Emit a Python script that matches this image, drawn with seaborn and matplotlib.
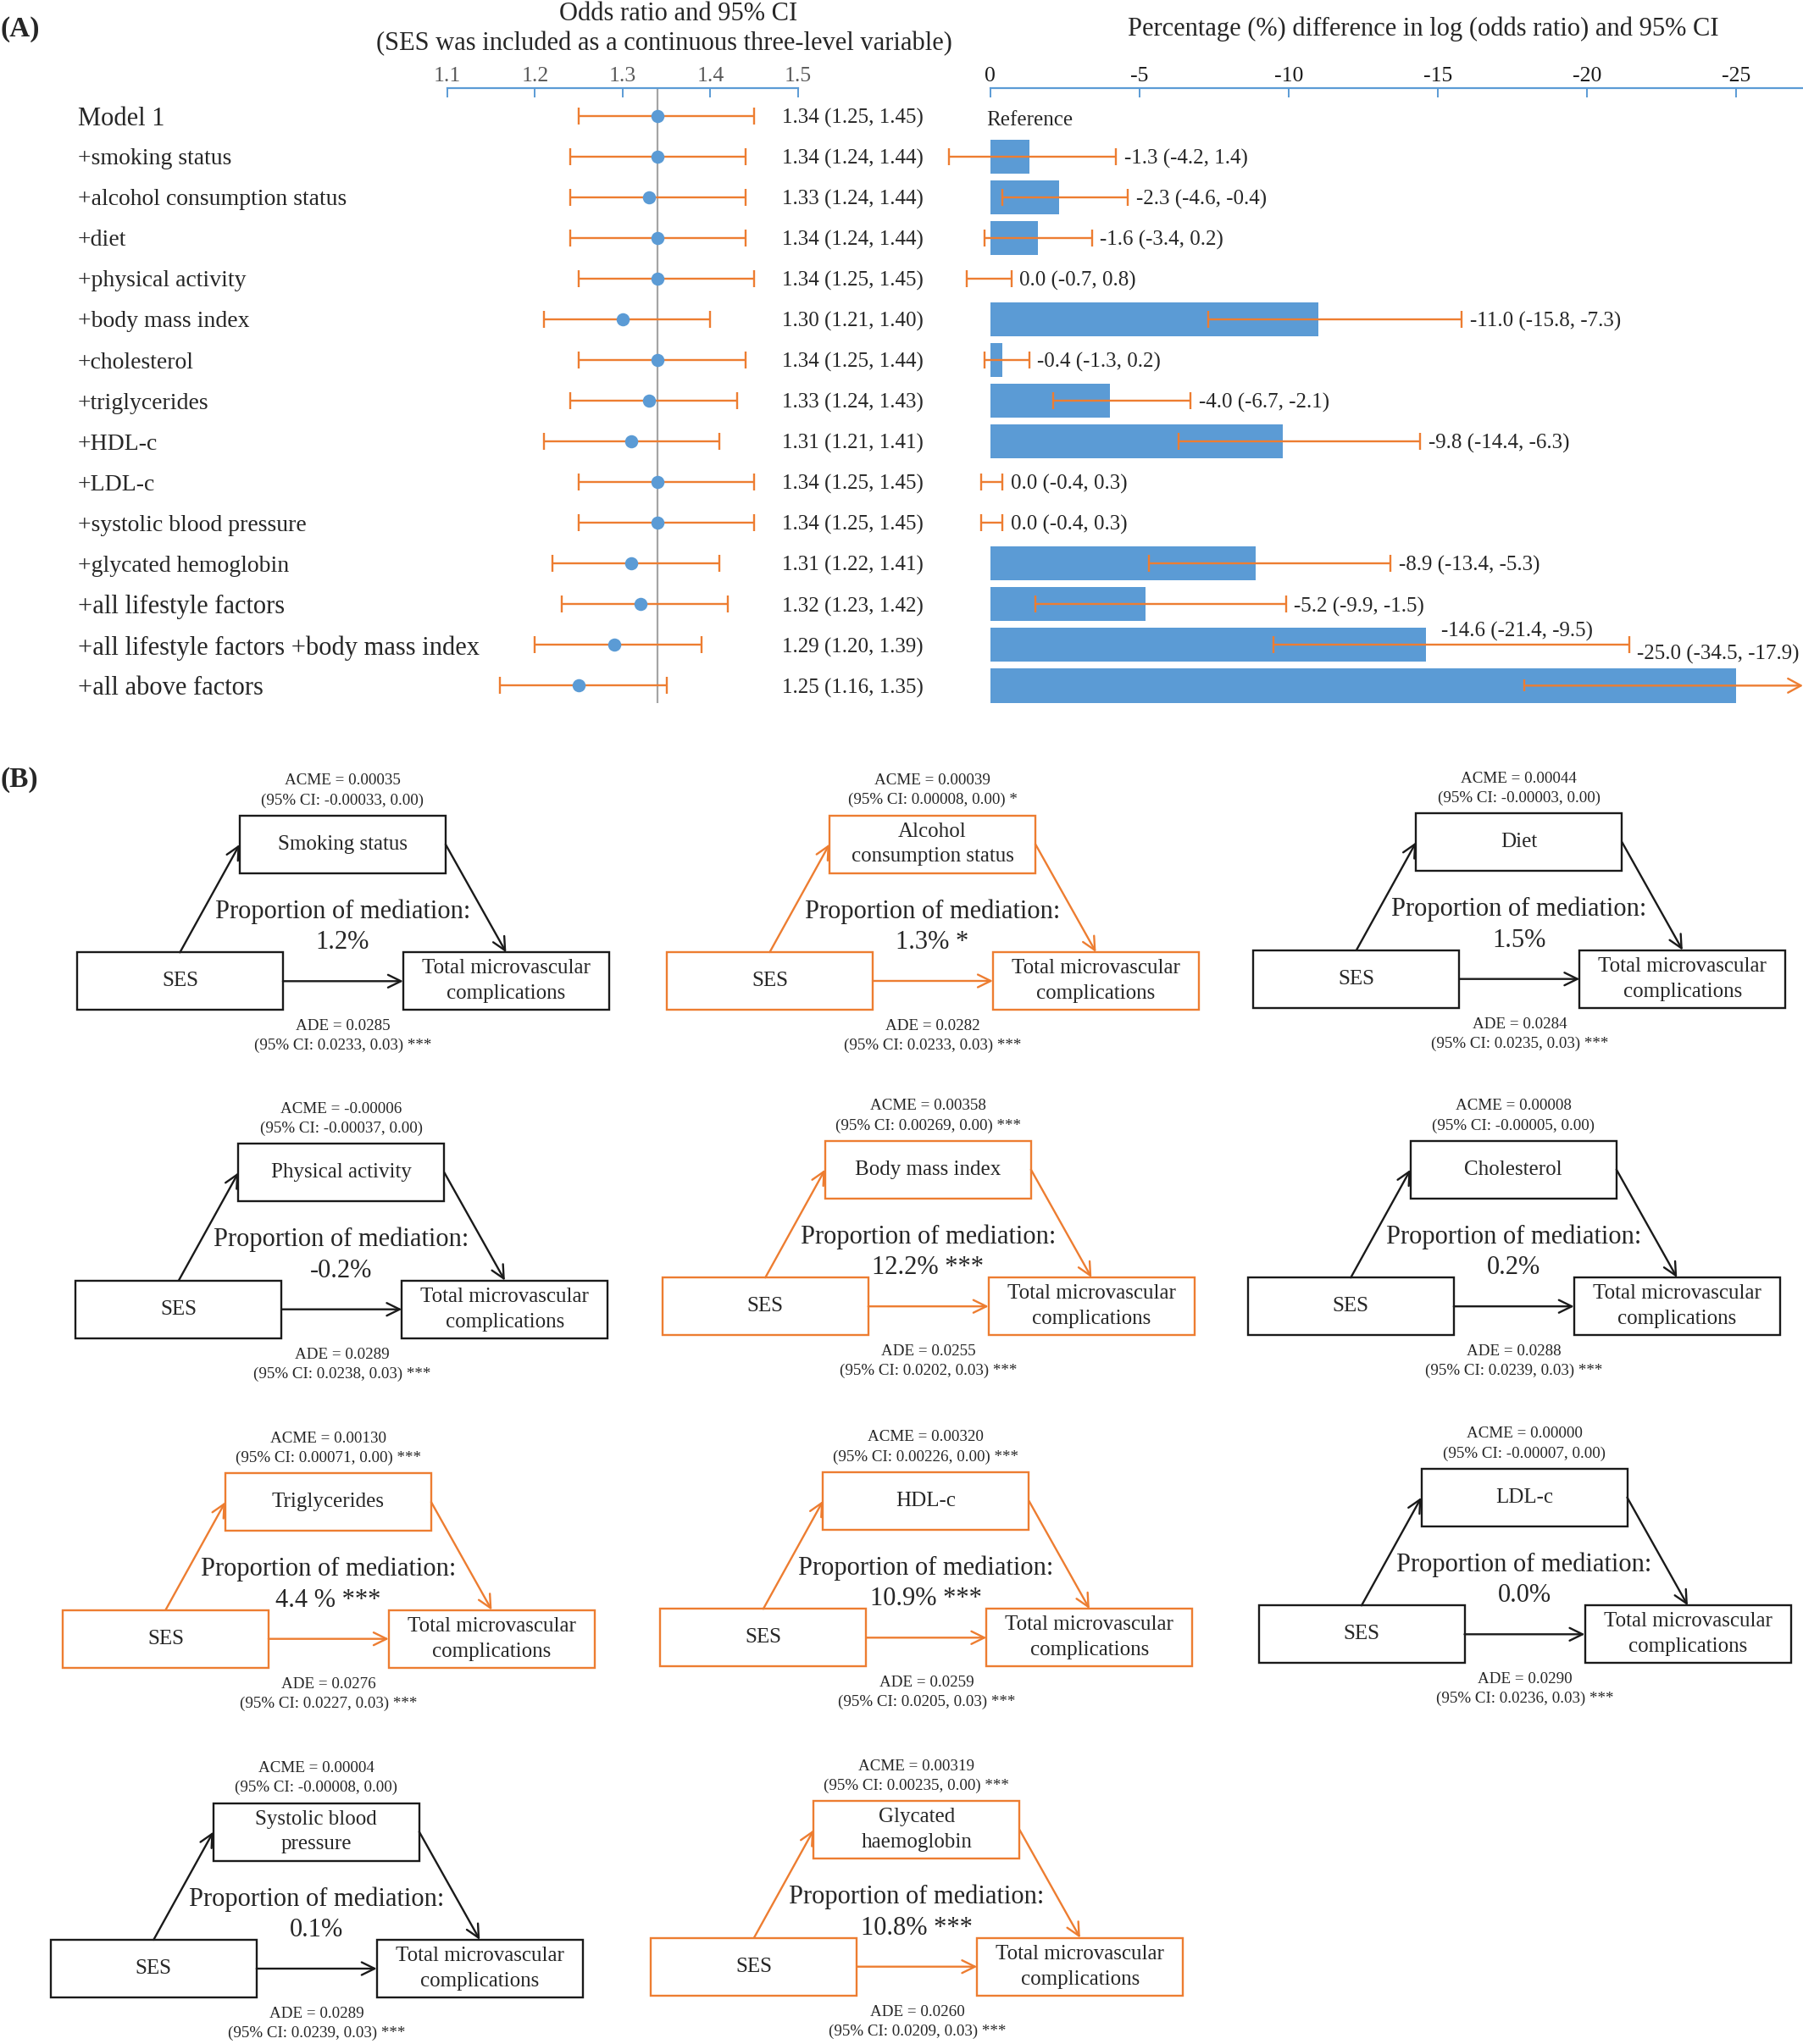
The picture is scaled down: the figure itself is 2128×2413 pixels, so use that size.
import numpy as np
import pandas as pd
import matplotlib
matplotlib.use("Agg")
import matplotlib.pyplot as plt
from matplotlib.patches import Rectangle
import matplotlib.transforms as mtransforms
import seaborn as sns

# ---------------- data: panel A ----------------
models = ["Model 1", "+smoking status", "+alcohol consumption status", "+diet",
          "+physical activity", "+body mass index", "+cholesterol", "+triglycerides",
          "+HDL-c", "+LDL-c", "+systolic blood pressure", "+glycated hemoglobin",
          "+all lifestyle factors", "+all lifestyle factors +body mass index",
          "+all above factors"]
or_est = [1.34, 1.34, 1.33, 1.34, 1.34, 1.30, 1.34, 1.33, 1.31, 1.34, 1.34, 1.31, 1.32, 1.29, 1.25]
or_lo = [1.25, 1.24, 1.24, 1.24, 1.25, 1.21, 1.25, 1.24, 1.21, 1.25, 1.25, 1.22, 1.23, 1.20, 1.16]
or_hi = [1.45, 1.44, 1.44, 1.44, 1.45, 1.40, 1.44, 1.43, 1.41, 1.45, 1.45, 1.41, 1.42, 1.39, 1.35]
or_ticks = [1.1, 1.2, 1.3, 1.4, 1.5]

pct_models = models[1:]
pct_diff = [-1.3, -2.3, -1.6, 0.0, -11.0, -0.4, -4.0, -9.8, 0.0, 0.0, -8.9, -5.2, -14.6, -25.0]
pct_lo = [-4.2, -4.6, -3.4, -0.7, -15.8, -1.3, -6.7, -14.4, -0.4, -0.4, -13.4, -9.9, -21.4, -34.5]
pct_hi = [1.4, -0.4, 0.2, 0.8, -7.3, 0.2, -2.1, -6.3, 0.3, 0.3, -5.3, -1.5, -9.5, -17.9]
pct_ticks = [0, -5, -10, -15, -20, -25]

# ---------------- data: panel B ----------------
mediators = ["Smoking status", "Alcohol\nconsumption status", "Diet", "Physical activity",
             "Body mass index", "Cholesterol", "Triglycerides", "HDL-c", "LDL-c",
             "Systolic blood\npressure", "Glycated\nhaemoglobin"]
acme = [0.00035, 0.00039, 0.00044, -0.00006, 0.00358, 0.00008, 0.00130, 0.00320, 0.00000, 0.00004, 0.00319]
acme_ci_lo = [-0.00033, 0.00008, -0.00003, -0.00037, 0.00269, -0.00005, 0.00071, 0.00226, -0.00007, -0.00008, 0.00235]
acme_ci_hi = [0.00] * 11
acme_sig = ["", "*", "", "", "***", "", "***", "***", "", "", "***"]
ade = [0.0285, 0.0282, 0.0284, 0.0289, 0.0255, 0.0288, 0.0276, 0.0259, 0.0290, 0.0289, 0.0260]
ade_ci_lo = [0.0233, 0.0233, 0.0235, 0.0238, 0.0202, 0.0239, 0.0227, 0.0205, 0.0236, 0.0239, 0.0209]
ade_ci_hi = [0.03] * 11
ade_sig = ["***"] * 11
prop_labels = ["1.2%", "1.3% *", "1.5%", "-0.2%", "12.2% ***", "0.2%", "4.4 % ***",
               "10.9% ***", "0.0%", "0.1%", "10.8% ***"]

# ---------------- style ----------------
sns.set_style("white")
plt.rcParams["font.family"] = ["Liberation Serif", "DejaVu Serif"]
BLUE = "#5B9BD5"
ORANGE = "#ED7D31"
BLACK = "#1a1a1a"

FIG_W, FIG_H = 2128, 2413
fig = plt.figure(figsize=(FIG_W / 100, FIG_H / 100), dpi=100)

canvas = fig.add_axes([0, 0, 1, 1])
canvas.set_xlim(0, FIG_W)
canvas.set_ylim(FIG_H, 0)
canvas.axis("off")


def fig_rect(x0, x1, y0, y1):
    return [x0 / FIG_W, 1 - y1 / FIG_H, (x1 - x0) / FIG_W, (y1 - y0) / FIG_H]


ROW0_Y, ROW_H = 136.8, 48.04
AX_TOP, AX_BOT = 103.8, 830.0
YLIM = ((AX_BOT - ROW0_Y) / ROW_H, (AX_TOP - ROW0_Y) / ROW_H)
label_sizes = [22] + [20] * 11 + [22, 22, 22]

# ---------------- panel A: forest ----------------
ax_or = fig.add_axes(fig_rect(528, 942, AX_TOP, AX_BOT))
ax_or.patch.set_alpha(0)
rows = np.arange(len(models))
df_or = pd.DataFrame({"model": models, "row": rows, "or": or_est, "lo": or_lo, "hi": or_hi})

ax_or.axvline(or_est[0], color="#A5A5A5", lw=1.6, zorder=1)
ax_or.errorbar(df_or["or"], df_or["row"],
               xerr=[df_or["or"] - df_or["lo"], df_or["hi"] - df_or["or"]],
               fmt="none", ecolor=ORANGE, elinewidth=1.7, capsize=7, capthick=1.7, zorder=2)
sns.scatterplot(data=df_or, x="or", y="row", ax=ax_or, s=125, color=BLUE,
                edgecolor=BLUE, linewidth=0, zorder=3, legend=False)
ax_or.set_xlim(1.1, 1.5)
ax_or.set_ylim(*YLIM)
ax_or.set_xlabel("")
ax_or.set_ylabel("")
ax_or.set_yticks([])
ax_or.xaxis.tick_top()
ax_or.set_xticks(or_ticks)
ax_or.set_xticklabels([f"{t:.1f}" for t in or_ticks])
ax_or.tick_params(axis="x", direction="in", length=8, width=1.4, color=BLUE,
                  labelsize=18.5, labelcolor="#595959", pad=2)
for s in ["left", "right", "bottom"]:
    ax_or.spines[s].set_visible(False)
ax_or.spines["top"].set_color(BLUE)
ax_or.spines["top"].set_linewidth(1.6)

tr_or = mtransforms.blended_transform_factory(ax_or.transAxes, ax_or.transData)
for r, (m, e, l, h) in enumerate(zip(models, or_est, or_lo, or_hi)):
    ax_or.text(-1.054, r, m, transform=tr_or, ha="left", va="center_baseline",
               fontsize=label_sizes[r])
    ax_or.text(0.954, r, f"{e:.2f} ({l:.2f}, {h:.2f})", transform=tr_or,
               ha="left", va="center_baseline", fontsize=18)

# ---------------- panel A: percentage bars ----------------
PX_PER_UNIT = 35.22
X0_PX = 1168.9
LEFT_EXTRA = 2.0
RIGHT_LIM = -(FIG_W - X0_PX) / PX_PER_UNIT
ax_b = fig.add_axes(fig_rect(X0_PX - LEFT_EXTRA * PX_PER_UNIT, FIG_W, AX_TOP, AX_BOT))
ax_b.patch.set_alpha(0)
df_b = pd.DataFrame({"model": pct_models, "diff": pct_diff, "lo": pct_lo, "hi": pct_hi})
sns.barplot(data=df_b, x="diff", y="model", order=models, orient="h", color=BLUE,
            width=0.84, saturation=1, errorbar=None, linewidth=0, ax=ax_b, zorder=1)
ax_b.set_xlim(LEFT_EXTRA, RIGHT_LIM)
ax_b.set_ylim(*YLIM)
ax_b.set_xlabel("")
ax_b.set_ylabel("")
ax_b.set_yticks([])
ax_b.xaxis.tick_top()
ax_b.set_xticks(pct_ticks)
ax_b.set_xticklabels([str(t) for t in pct_ticks])
ax_b.tick_params(axis="x", direction="in", length=8, width=1.4, color=BLUE,
                 labelsize=18.5, labelcolor="#1a1a1a", pad=2)
for s in ["left", "right", "bottom"]:
    ax_b.spines[s].set_visible(False)
ax_b.spines["top"].set_color(BLUE)
ax_b.spines["top"].set_linewidth(1.6)
ax_b.spines["top"].set_bounds(RIGHT_LIM, 0)

brow = np.arange(1, len(models))
inside = df_b["lo"] >= RIGHT_LIM
ax_b.errorbar(df_b["diff"][inside], brow[inside.values],
              xerr=[(df_b["diff"] - df_b["lo"])[inside], (df_b["hi"] - df_b["diff"])[inside]],
              fmt="none", ecolor=ORANGE, elinewidth=1.7, capsize=7, capthick=1.7, zorder=3)
for r, (d, l, h) in zip(brow[~inside.values], df_b[~inside][["diff", "lo", "hi"]].values):
    ax_b.plot([h], [r], marker="|", ms=7 * 1.4, mew=1.7, color=ORANGE, zorder=3)
    ax_b.annotate("", xy=(RIGHT_LIM, r), xytext=(h, r),
                  arrowprops=dict(arrowstyle="->,head_length=0.55,head_width=0.3",
                                  color=ORANGE, lw=1.7, shrinkA=0, shrinkB=0,
                                  mutation_scale=20), zorder=3)

ax_b.annotate("Reference", xy=(0, 0), xytext=(-3.6, -2), textcoords="offset points",
              ha="left", va="center_baseline", fontsize=18)
n_b = len(pct_diff)
for i, (d, l, h) in enumerate(zip(pct_diff, pct_lo, pct_hi)):
    r = i + 1
    txt = f"{d:.1f} ({l:.1f}, {h:.1f})"
    if i == n_b - 1:
        ax_b.annotate(txt, xy=(1.0, r), xycoords=("axes fraction", "data"),
                      xytext=(-3, 28.5), textcoords="offset points",
                      ha="right", va="center_baseline", fontsize=18)
    elif i == n_b - 2:
        ax_b.annotate(txt, xy=(d, r), xytext=(13, 13.5), textcoords="offset points",
                      ha="left", va="center_baseline", fontsize=18)
    else:
        ax_b.annotate(txt, xy=(l, r), xytext=(7, 0), textcoords="offset points",
                      ha="left", va="center_baseline", fontsize=18)

# ---------------- titles ----------------
canvas.text(801, 17, "Odds ratio and 95% CI", ha="center", va="center", fontsize=22)
canvas.text(784, 52, "(SES was included as a continuous three-level variable)",
            ha="center", va="center", fontsize=22)
canvas.text(1680, 34, "Percentage (%) difference in log (odds ratio) and 95% CI",
            ha="center", va="center", fontsize=22)
canvas.text(0, 34, "(A)", ha="left", va="center", fontsize=24, fontweight="bold")
canvas.text(0, 921, "(B)", ha="left", va="center", fontsize=24, fontweight="bold")

# ---------------- panel B: mediation diagrams ----------------
med_origin = [(90.9, 1124.3), (787.0, 1124.0), (1479.4, 1121.7),
              (89.4, 1511.7), (781.8, 1508.2), (1472.8, 1508.2),
              (73.9, 1900.7), (779.4, 1899.3), (1485.5, 1895.3),
              (59.8, 2290.0), (768.4, 2287.7)]
BW, BH = 243, 68
LW = 1.7
ARROW = "->,head_length=0.55,head_width=0.27"


def arrow(p0, p1, color):
    canvas.annotate("", xy=p1, xytext=p0,
                    arrowprops=dict(arrowstyle=ARROW, color=color, lw=LW,
                                    shrinkA=0, shrinkB=0, mutation_scale=20))


for k in range(len(mediators)):
    x0, y0 = med_origin[k]
    color = ORANGE if acme_sig[k] else BLACK
    mx, my = x0 + 192, y0 - 161.5
    ox = x0 + 385
    for (bx, by) in [(x0, y0), (mx, my), (ox, y0)]:
        canvas.add_patch(Rectangle((bx, by), BW, BH, fill=False, ec=color, lw=LW))
    canvas.text(x0 + BW / 2, y0 + BH / 2, "SES", ha="center", va="center", fontsize=18)
    canvas.text(mx + BW / 2, my + BH / 2, mediators[k], ha="center", va="center",
                fontsize=18, linespacing=1.45)
    canvas.text(ox + BW / 2, y0 + BH / 2, "Total microvascular\ncomplications",
                ha="center", va="center", fontsize=18, linespacing=1.45)
    cx = mx + BW / 2
    canvas.text(cx, y0 - 202.5, f"ACME = {acme[k]:.5f}", ha="center", va="center", fontsize=13.7)
    ci = f"(95% CI: {acme_ci_lo[k]:.5f}, {acme_ci_hi[k]:.2f})"
    if acme_sig[k]:
        ci += " " + acme_sig[k]
    canvas.text(cx, y0 - 179.3, ci, ha="center", va="center", fontsize=13.7)
    canvas.text(cx, y0 - 48, "Proportion of mediation:", ha="center", va="center", fontsize=22)
    canvas.text(cx, y0 - 11.5, prop_labels[k], ha="center", va="center", fontsize=22)
    ax_c = x0 + BW / 2 + 192.5
    canvas.text(ax_c, y0 + 87.5, f"ADE = {ade[k]:.4f}", ha="center", va="center", fontsize=13.7)
    canvas.text(ax_c, y0 + 110.5, f"(95% CI: {ade_ci_lo[k]:.4f}, {ade_ci_hi[k]:.2f}) {ade_sig[k]}",
                ha="center", va="center", fontsize=13.7)
    arrow((x0 + BW / 2, y0), (mx, my + BH / 2), color)
    arrow((mx + BW, my + BH / 2), (ox + BW / 2, y0), color)
    arrow((x0 + BW, y0 + BH / 2), (ox, y0 + BH / 2), color)

fig.savefig("out.png", dpi=100)
